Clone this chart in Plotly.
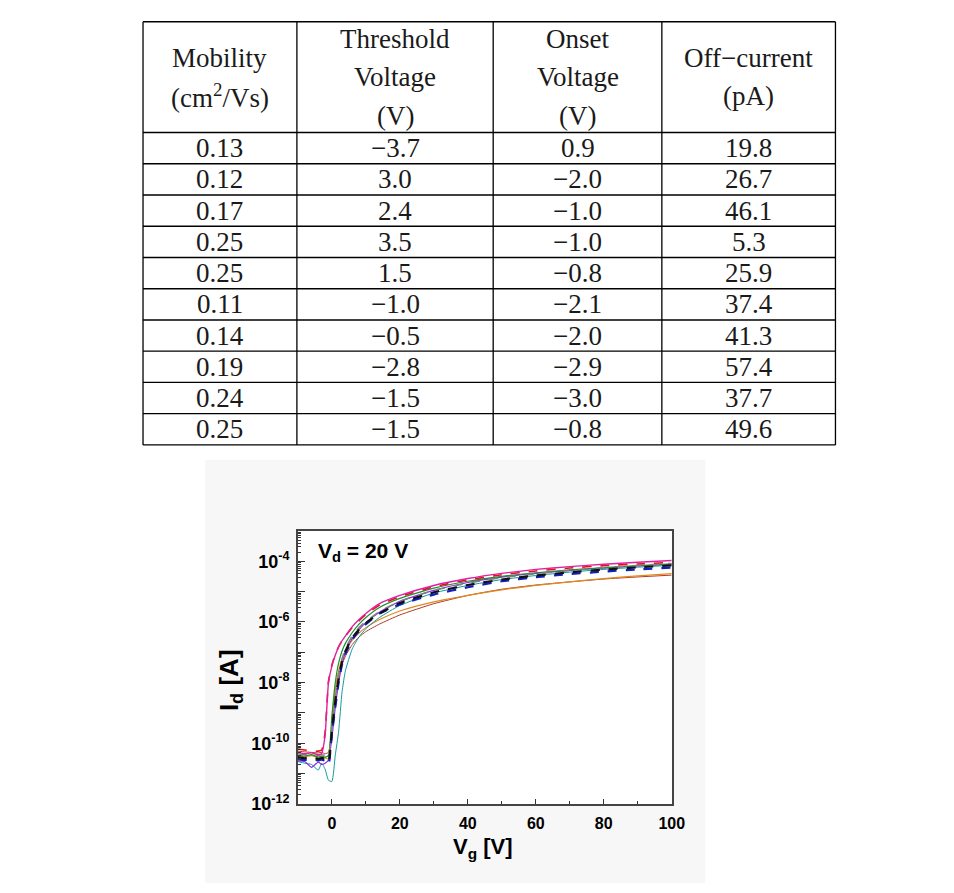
import plotly.graph_objects as go

# ---------------- table data ----------------
HEADERS = [["Mobility", "(cm<sup>2</sup>/Vs)"],
           ["Threshold", "Voltage", "(V)"],
           ["Onset", "Voltage", "(V)"],
           ["Off\u2212current", "(pA)"]]
MOBILITY = [0.13, 0.12, 0.17, 0.25, 0.25, 0.11, 0.14, 0.19, 0.24, 0.25]
THRESHOLD_V = [-3.7, 3.0, 2.4, 3.5, 1.5, -1.0, -0.5, -2.8, -1.5, -1.5]
ONSET_V = [0.9, -2.0, -1.0, -1.0, -0.8, -2.1, -2.0, -2.9, -3.0, -0.8]
OFF_CURRENT_PA = [19.8, 26.7, 46.1, 5.3, 25.9, 37.4, 41.3, 57.4, 37.7, 49.6]

# ---------------- transfer curve data (Id in A vs Vg in V) ----------------
VG = [-10, -8, -6, -4, -3, -2, -1, 0, 1, 2, 3, 4, 6, 8, 10, 14, 20, 30, 40, 50, 60, 70, 80, 90, 100]

ID_MAGENTA = [5.0e-11, 4.5e-11, 4.8e-11, 4.2e-11, 4.6e-11, 1.8e-10, 1.0e-8, 3.5e-8, 8.0e-8, 1.5e-7, 2.4e-7, 3.5e-7,
              7.0e-7, 1.2e-6, 1.9e-6, 4.0e-6, 7.5e-6, 1.6e-5, 2.7e-5, 4.0e-5, 5.4e-5, 6.7e-5, 8.0e-5, 9.3e-5, 1.06e-4]
ID_RED = [6.5e-11, 6.0e-11, 5.5e-11, 5.5e-11, 6.0e-11, 2.2e-10, 1.1e-8, 3.8e-8, 8.5e-8, 1.55e-7, 2.4e-7, 3.4e-7,
          6.6e-7, 1.1e-6, 1.75e-6, 3.6e-6, 6.8e-6, 1.45e-5, 2.45e-5, 3.6e-5, 4.8e-5, 6.0e-5, 7.2e-5, 8.2e-5, 9.2e-5]
ID_GREEN = [4.0e-11, 3.8e-11, 4.2e-11, 3.5e-11, 3.8e-11, 3.5e-11, 4.0e-11, 8.0e-10, 1.0e-8, 4.5e-8, 1.1e-7, 2.0e-7,
            4.5e-7, 8.5e-7, 1.4e-6, 3.0e-6, 6.0e-6, 1.3e-5, 2.2e-5, 3.2e-5, 4.2e-5, 5.2e-5, 6.2e-5, 7.2e-5, 8.2e-5]
ID_BLACK = [3.5e-11, 3.2e-11, 3.5e-11, 3.0e-11, 3.3e-11, 3.0e-11, 2.4e-11, 2.5e-10, 2.5e-9, 1.4e-8, 5.0e-8, 1.1e-7,
            3.0e-7, 5.6e-7, 9.2e-7, 1.9e-6, 4.2e-6, 9.5e-6, 1.65e-5, 2.5e-5, 3.4e-5, 4.3e-5, 5.3e-5, 6.3e-5, 7.3e-5]
ID_BLUE = [3.0e-11, 2.8e-11, 3.0e-11, 2.7e-11, 2.9e-11, 2.6e-11, 2.0e-11, 2.0e-10, 1.5e-9, 1.0e-8, 4.0e-8, 9.0e-8,
           2.6e-7, 5.0e-7, 8.5e-7, 1.9e-6, 3.8e-6, 8.0e-6, 1.4e-5, 2.2e-5, 3.0e-5, 3.8e-5, 4.6e-5, 5.4e-5, 6.2e-5]
ID_CYAN = [2.5e-11, 2.2e-11, 2.0e-11, 1.3e-11, 2.2e-11, 1.4e-11, 6.0e-12, 5.5e-12, 4.0e-11, 2.5e-10, 5.0e-9, 2.5e-8,
           1.3e-7, 3.2e-7, 6.0e-7, 1.4e-6, 3.5e-6, 9.0e-6, 1.6e-5, 2.5e-5, 3.4e-5, 4.4e-5, 5.4e-5, 6.4e-5, 7.4e-5]
ID_PURPLE = [2.6e-11, 2.5e-11, 1.6e-11, 2.4e-11, 2.0e-11, 2.2e-11, 2.8e-11, 1.5e-10, 1.5e-9, 1.0e-8, 4.0e-8, 1.0e-7,
             2.9e-7, 5.6e-7, 9.5e-7, 2.1e-6, 4.8e-6, 1.1e-5, 2.0e-5, 3.0e-5, 4.0e-5, 5.0e-5, 6.0e-5, 7.0e-5, 8.0e-5]
ID_GRAY = [4.5e-11, 4.2e-11, 4.4e-11, 4.0e-11, 4.2e-11, 4.0e-11, 3.8e-11, 3.0e-10, 3.0e-9, 1.8e-8, 6.0e-8, 1.3e-7,
           3.5e-7, 6.5e-7, 1.05e-6, 2.2e-6, 4.8e-6, 1.1e-5, 1.9e-5, 2.9e-5, 3.9e-5, 5.0e-5, 6.1e-5, 7.3e-5, 8.5e-5]
ID_ORANGE = [3.8e-11, 3.6e-11, 3.9e-11, 3.4e-11, 3.6e-11, 3.3e-11, 3.0e-11, 5.0e-10, 6.0e-9, 2.5e-8, 6.0e-8, 1.1e-7,
             2.5e-7, 4.3e-7, 6.5e-7, 1.2e-6, 2.3e-6, 4.6e-6, 7.5e-6, 1.15e-5, 1.6e-5, 2.1e-5, 2.7e-5, 3.3e-5, 3.9e-5]
ID_BROWN = [5.5e-11, 5.2e-11, 5.0e-11, 4.8e-11, 5.0e-11, 4.5e-11, 5.0e-11, 3.0e-10, 3.0e-9, 1.5e-8, 4.0e-8, 7.5e-8,
            1.8e-7, 3.2e-7, 4.8e-7, 8.5e-7, 1.7e-6, 4.0e-6, 7.5e-6, 1.2e-5, 1.65e-5, 2.1e-5, 2.6e-5, 3.05e-5, 3.5e-5]

CURVES = [
    (ID_BROWN, "#b03a2a", "solid", 1.0),
    (ID_ORANGE, "#e08a1e", "solid", 1.2),
    (ID_CYAN, "#159a9a", "solid", 1.0),
    (ID_PURPLE, "#8a2be2", "solid", 1.2),
    (ID_GREEN, "#1f8f2f", "solid", 1.2),
    (ID_GRAY, "#808080", "dash", 1.6),
    (ID_BLUE, "#1020c0", "dash", 2.2),
    (ID_BLACK, "#111111", "dash", 2.2),
    (ID_RED, "#e01020", "dash", 1.6),
    (ID_MAGENTA, "#e020a0", "solid", 1.4),
]

W, H = 954, 893


def px(x):
    return x / W


def py(y):
    return 1 - y / H


fig = go.Figure()
for ys, color, dash, width in CURVES:
    fig.add_trace(go.Scatter(x=VG, y=ys, mode="lines",
                             line=dict(color=color, dash=dash, width=width, shape="spline", smoothing=0.5),
                             showlegend=False, hoverinfo="skip"))

shapes = []
annotations = []

# ---------------- table drawing ----------------
COL_X = [145, 301, 500, 671, 847]
TOP, HEAD_BOTTOM, BOTTOM = 22, 134, 450
n_rows = len(MOBILITY)
row_h = (BOTTOM - HEAD_BOTTOM) / n_rows
row_lines = [TOP, HEAD_BOTTOM] + [HEAD_BOTTOM + row_h * (i + 1) for i in range(n_rows)]
line_style = dict(color="#000000", width=1.3)
for yv in row_lines:
    shapes.append(dict(type="line", xref="paper", yref="paper", x0=px(COL_X[0]), x1=px(COL_X[-1]),
                       y0=py(yv), y1=py(yv), line=line_style))
for xv in COL_X:
    shapes.append(dict(type="line", xref="paper", yref="paper", x0=px(xv), x1=px(xv),
                       y0=py(TOP), y1=py(BOTTOM), line=line_style))

tfont = dict(family="Liberation Serif, Times New Roman, serif", size=27, color="#1a1a1a")
head_mid = (TOP + HEAD_BOTTOM) / 2
line_gap = 39
for c, lines in enumerate(HEADERS):
    cx = (COL_X[c] + COL_X[c + 1]) / 2
    n = len(lines)
    for k, t in enumerate(lines):
        yc = head_mid + (k - (n - 1) / 2) * line_gap
        annotations.append(dict(x=px(cx), y=py(yc), xref="paper", yref="paper", text=t, showarrow=False,
                                xanchor="center", yanchor="middle", font=tfont))


def fmt(v, d):
    return f"{v:.{d}f}".replace("-", "\u2212")


columns = [(MOBILITY, 2), (THRESHOLD_V, 1), (ONSET_V, 1), (OFF_CURRENT_PA, 1)]
for c, (vals, d) in enumerate(columns):
    cx = (COL_X[c] + COL_X[c + 1]) / 2
    for r, v in enumerate(vals):
        yc = HEAD_BOTTOM + row_h * (r + 0.5)
        annotations.append(dict(x=px(cx), y=py(yc), xref="paper", yref="paper", text=fmt(v, d),
                                showarrow=False, xanchor="center", yanchor="middle", font=tfont))

# ---------------- chart background ----------------
PL, PR, PT, PB = 302, 681, 537, 813
shapes.insert(0, dict(type="rect", xref="paper", yref="paper", x0=px(208), x1=px(715), y0=py(893), y1=py(465),
                      fillcolor="#f7f7f7", line=dict(width=0), layer="below"))
shapes.insert(1, dict(type="rect", xref="paper", yref="paper", x0=px(PL), x1=px(PR), y0=py(PB), y1=py(PT),
                      fillcolor="#ffffff", line=dict(width=0), layer="below"))

bold_sans = "Liberation Sans, Arial, sans-serif"
annotations.append(dict(x=px(320), y=py(558), xref="paper", yref="paper",
                        text="<b>V<sub>d</sub> = 20 V</b>", showarrow=False, xanchor="left", yanchor="middle",
                        font=dict(family=bold_sans, size=21, color="#000")))
annotations.append(dict(x=px(490), y=py(858), xref="paper", yref="paper",
                        text="<b>V<sub>g</sub> [V]</b>", showarrow=False, xanchor="center", yanchor="middle",
                        font=dict(family=bold_sans, size=22, color="#000")))
annotations.append(dict(x=px(233), y=py(688), xref="paper", yref="paper",
                        text="<b>I<sub>d</sub> [A]</b>", showarrow=False, xanchor="center", yanchor="middle",
                        textangle=-90, font=dict(family=bold_sans, size=26, color="#000")))

Y_TICKS = [1e-12, 1e-11, 1e-10, 1e-9, 1e-8, 1e-7, 1e-6, 1e-5, 1e-4, 1e-3]
Y_TICKTEXT = ["10<sup>-12</sup>", "", "10<sup>-10</sup>", "", "10<sup>-8</sup>", "", "10<sup>-6</sup>", "",
              "10<sup>-4</sup>", ""]
X_TICKS = [0, 20, 40, 60, 80, 100]
X_MINOR = [-10, 10, 30, 50, 70, 90]
y_minor = [m * t for t in Y_TICKS[:-1] for m in range(2, 10)]

axis_common = dict(showline=True, mirror=True, linecolor="#444444", linewidth=1.5, showgrid=False,
                   zeroline=False, ticks="inside", tickcolor="#333333", tickwidth=1.2)

fig.update_layout(
    width=W, height=H, margin=dict(l=0, r=0, t=0, b=0),
    paper_bgcolor="#ffffff", plot_bgcolor="rgba(0,0,0,0)",
    xaxis=dict(domain=[px(PL), px(PR)], range=[-10, 100], tickmode="array", tickvals=X_TICKS,
               ticklen=5, ticklabelstandoff=4,
               tickfont=dict(family=bold_sans, size=16, color="#000", weight="bold"),
               minor=dict(tickvals=X_MINOR, ticks="inside", ticklen=3, tickcolor="#333333", showgrid=False),
               **axis_common),
    yaxis=dict(domain=[py(PB), py(PT)], type="log", range=[-12, -3], tickmode="array",
               tickvals=Y_TICKS, ticktext=Y_TICKTEXT, ticklen=7, ticklabelstandoff=3,
               tickfont=dict(family=bold_sans, size=18, color="#000", weight="bold"),
               minor=dict(tickvals=y_minor, ticks="inside", ticklen=3, tickcolor="#333333", showgrid=False),
               **axis_common),
    shapes=shapes, annotations=annotations,
)

fig.write_html(
    "out.html",
    config={"displayModeBar": False},
    post_script="document.body.style.margin='0';document.body.style.padding='0';",
)
